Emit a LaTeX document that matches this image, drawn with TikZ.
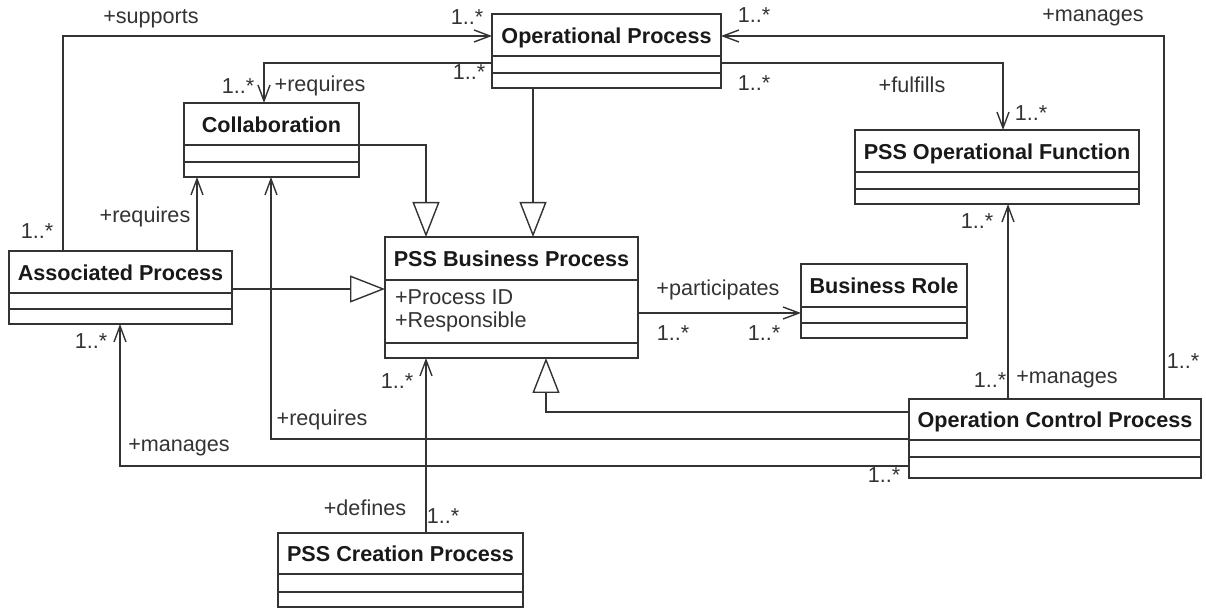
\documentclass[tikz,border=0pt]{standalone}
\usepackage{fontspec}
\setmainfont{Liberation Sans}
\usetikzlibrary{arrows.meta,fit}
\definecolor{umlgray}{HTML}{333333}

\begin{document}
\begin{tikzpicture}[
  x=.5pt,y=-.5pt,
  every node/.style={font=\fontsize{10.8}{13}\selectfont,text=umlgray},
  classbox/.style={draw=umlgray,line width=.7pt,inner sep=0pt,outer sep=0pt},
  classtitle/.style={font=\fontsize{10.8}{13}\selectfont\bfseries,text=black!90,
    text height=.72em,text depth=0pt},
  assoc/.style={draw=umlgray,line width=.7pt,-{Straight Barb[length=8pt,width=6pt]}},
  gen/.style={draw=umlgray,line width=.7pt,-{Triangle[open,length=17.5pt,width=13.5pt]}}
]
\useasboundingbox (0,0) rectangle (1206,608);

% class boxes: name / left / top / right / bottom / first rule / second rule / title
\foreach \n/\xa/\ya/\xb/\yb/\la/\lb/\t in {
  op/492/14/721/88/56/73/Operational Process,
  collab/184/103/359/177/145/162/Collaboration,
  psof/855/130/1139/204/172/189/PSS Operational Function,
  ap/9/251/232/324/293/309/Associated Process,
  bp/385/237/638/358/280/343/PSS Business Process,
  br/801/264/967/338/307/323/Business Role,
  ocp/909/399/1201/478/440/457/Operation Control Process,
  pcp/278/533/523/607/574/592/PSS Creation Process} {
  \node[classbox,fit={(\xa,\ya) (\xb,\yb)}] (\n) {};
  \draw[umlgray,line width=.7pt] (\xa,\la) -- (\xb,\la) (\xa,\lb) -- (\xb,\lb);
  \node[classtitle] (\n-title) at ({(\xa+\xb)/2},{(\ya+\la)/2+1}) {\t};
}
\node[anchor=west] (bp-id) at (388,297) {+Process ID};
\node[anchor=west] (bp-resp) at (388,322) {+Responsible};

% generalizations
\draw[gen] (collab.east |- 0,145) -| (bp.north -| 426,0);
\draw[gen] (op.south -| 533,0) -- (bp.north -| 533,0);
\draw[gen] (ap.east |- 0,289) -- (bp.west |- 0,289);
\draw[gen] (ocp.west |- 0,412) -| (bp.south -| 546,0);

% associations
\draw[assoc] (ap.north -| 63,0) |- (op.west |- 0,36);
\draw[assoc] (op.west |- 0,63) -| (collab.north -| 264,0);
\draw[assoc] (op.east |- 0,63) -| (psof.north -| 1003,0);
\draw[assoc] (ocp.north -| 1164,0) |- (op.east |- 0,36);
\draw[assoc] (ocp.west |- 0,439) -| (collab.south -| 271,0);
\draw[assoc] (ocp.west |- 0,466) -| (ap.south -| 120,0);
\draw[assoc] (ap.north -| 197,0) -- (collab.south -| 197,0);
\draw[assoc] (bp.east |- 0,313) -- (br.west |- 0,313);
\draw[assoc] (pcp.north -| 426,0) -- (bp.south -| 426,0);
\draw[assoc] (ocp.north -| 1008,0) -- (psof.south -| 1008,0);

% role names
\foreach \x/\y/\t [count=\i] in {151/19/+supports, 1093/18/+manages, 912/85/+fulfills,
  320/86/+requires, 145/217/+requires, 322/420/+requires, 179/448/+manages,
  718/290/+participates, 1067/380/+manages, 365/508/+defines} {
  \node (role\i) at (\x,\y) {\t};
}
% multiplicities
\foreach \p [count=\i] in {(467,17),(469,72),(754,15),(754,83),(1031,113),(238,86),
  (37,231),(91,341),(397,381),(673,333),(764,333),(977,221),(990,380),(1183,361),
  (884,475),(443,516)} {
  \node (mult\i) at \p {1..*};
}
\end{tikzpicture}
\end{document}
